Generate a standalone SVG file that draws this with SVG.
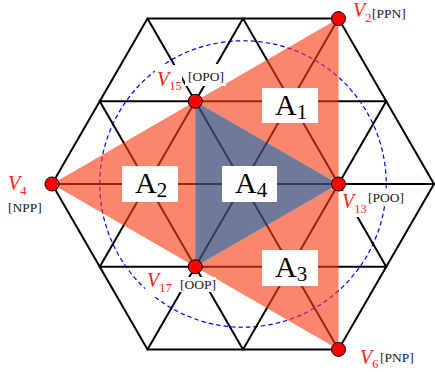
<svg xmlns="http://www.w3.org/2000/svg" width="435" height="372" viewBox="0 0 435 372">
<style>
.g{stroke:#000;stroke-width:2;fill:none;stroke-linecap:round;stroke-linejoin:round}
.dot{fill:#ff0000;stroke:#000;stroke-width:1}
.bg{fill:#fff}
text{font-family:"Liberation Serif","Times New Roman","DejaVu Serif",serif}
.v{font-style:italic;font-size:20px;fill:#ff1a1a}
.vs{font-style:normal;font-size:12.5px;fill:#ff1a1a}
.br{font-size:13.5px;fill:#222}
.a{font-size:30px;fill:#000}
.as{font-size:21px}
</style>
<rect width="435" height="372" fill="#fff"/>
<circle cx="243" cy="184" r="143.25" fill="none" stroke="#0000ff" stroke-width="1.2" stroke-dasharray="4.5 3"/>
<g id="connectors" class="g">
<polygon points="147.5,18.59 338.5,18.59 434,184 338.5,349.41 147.5,349.41 52,184"/>
<line x1="99.75" y1="101.29" x2="386.25" y2="101.29"/>
<line x1="52" y1="184" x2="434" y2="184"/>
<line x1="99.75" y1="266.71" x2="386.25" y2="266.71"/>
<line x1="243" y1="18.59" x2="386.25" y2="266.71"/>
<line x1="147.5" y1="18.59" x2="338.5" y2="349.41"/>
<line x1="99.75" y1="101.29" x2="243" y2="349.41"/>
<line x1="243" y1="18.59" x2="99.75" y2="266.71"/>
<line x1="338.5" y1="18.59" x2="147.5" y2="349.41"/>
<line x1="386.25" y1="101.29" x2="243" y2="349.41"/>
</g>
<g id="regions">
<path d="M338.5,18.59 L52,184 L338.5,349.41 Z M195.25,101.29 L338.5,184 L195.25,266.71 Z" fill="rgb(245,60,20)" fill-opacity="0.62" fill-rule="evenodd"/>
<path d="M195.25,101.29 L338.5,184 L195.25,266.71 Z" fill="rgb(66,80,124)" fill-opacity="0.76"/>
</g>
<g id="A1"><rect class="bg" x="262" y="88" width="56" height="35"/><text class="a" x="275" y="115">A<tspan class="as" dy="4">1</tspan></text></g>
<g id="A2"><rect class="bg" x="122" y="166" width="56" height="36"/><text class="a" x="135" y="193">A<tspan class="as" dy="4">2</tspan></text></g>
<g id="A4"><rect class="bg" x="222" y="166" width="55" height="36"/><text class="a" x="235" y="193">A<tspan class="as" dy="4">4</tspan></text></g>
<g id="A3"><rect class="bg" x="262" y="250" width="56" height="36"/><text class="a" x="275" y="277">A<tspan class="as" dy="4">3</tspan></text></g>
<g id="V2">
<text class="v" x="353" y="17">V<tspan class="vs" dy="5">2</tspan></text>
<text class="br" x="372" y="18">[PPN]</text>
<circle class="dot" cx="338.5" cy="18.59" r="7"/>
</g>
<g id="V15">
<rect class="bg" x="155" y="65" width="27" height="29"/>
<rect class="bg" x="185" y="64" width="41" height="22"/>
<text class="v" x="157" y="85.5">V<tspan class="vs" dy="4.5">15</tspan></text>
<text class="br" x="188" y="81">[OPO]</text>
<circle class="dot" cx="195.25" cy="101.29" r="7"/>
</g>
<g id="V4">
<text class="v" x="8" y="190">V<tspan class="vs" dy="5">4</tspan></text>
<text class="br" x="8" y="212">[NPP]</text>
<circle class="dot" cx="52" cy="184" r="7"/>
</g>
<g id="V13">
<rect class="bg" x="340" y="191" width="28" height="26"/>
<rect class="bg" x="365" y="190" width="40" height="16"/>
<text class="v" x="342" y="208">V<tspan class="vs" dy="5">13</tspan></text>
<text class="br" x="368" y="202">[POO]</text>
<circle class="dot" cx="338.5" cy="184" r="7"/>
</g>
<g id="V17">
<rect class="bg" x="145" y="272" width="26" height="24"/>
<rect class="bg" x="177" y="277" width="39" height="15"/>
<text class="v" x="147" y="287">V<tspan class="vs" dy="5">17</tspan></text>
<text class="br" x="180" y="289">[OOP]</text>
<circle class="dot" cx="195.25" cy="266.71" r="7"/>
</g>
<g id="V6">
<text class="v" x="360" y="364">V<tspan class="vs" dy="4">6</tspan></text>
<text class="br" x="380" y="362">[PNP]</text>
<circle class="dot" cx="338.5" cy="349.41" r="7"/>
</g>
</svg>
